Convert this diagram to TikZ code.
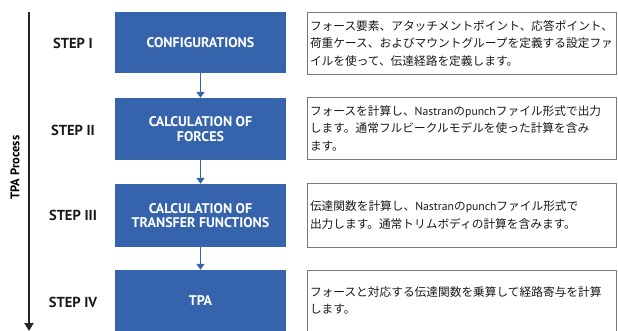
\documentclass[tikz,border=0pt]{standalone}
\usepackage{fontspec}
\setmainfont{PT Sans}
\newfontfamily\jp{Noto Sans CJK JP}
\usetikzlibrary{arrows.meta}
\definecolor{stepblue}{RGB}{53,99,172}
\definecolor{framegray}{RGB}{120,120,120}
\definecolor{jptext}{RGB}{25,25,25}
\tikzset{
  bluebox/.style={fill=stepblue, draw=none, minimum width=171pt, text=white, font=\bfseries\fontsize{14}{14.5}\selectfont, align=center, inner sep=0pt},
  descbox/.style={draw=framegray, line width=0.8pt, minimum width=309pt, text width=303pt, inner xsep=3pt, inner ysep=0pt, text=jptext, font=\jp\fontsize{11.7}{17.5}\selectfont, align=left},
  steplabel/.style={font=\bfseries\fontsize{14.5}{15}\selectfont, text=black!90},
  flowarrow/.style={draw=stepblue, line width=1.6pt, -{Triangle[width=8pt,length=6pt]}},
  mainarrow/.style={draw=black!85, line width=2.4pt, -{Triangle[width=9pt,length=8pt]}}
}
\begin{document}
\begin{tikzpicture}[x=1pt,y=-1pt]
\useasboundingbox (0,0) rectangle (618,331);
% blue step boxes
\node[bluebox, minimum height=61pt] (b1) at (200.5,42.5) {CONFIGURATIONS};
\node[bluebox, minimum height=62pt] (b2) at (200.5,129) {CALCULATION OF\\FORCES};
\node[bluebox, minimum height=63pt] (b3) at (200.5,215.5) {CALCULATION OF\\TRANSFER FUNCTIONS};
\node[bluebox, minimum height=61pt] (b4) at (200.5,300.5) {TPA};
% connectors
\draw[flowarrow] (b1.south) -- (b2.north);
\draw[flowarrow] (b2.south) -- (b3.north);
\draw[flowarrow] (b3.south) -- (b4.north);
% descriptions
\node[descbox, minimum height=62pt] (d1) at (461.5,43) {フォース要素、アタッチメントポイント、応答ポイント、\\荷重ケース、およびマウントグループを定義する設定ファ\\イルを使って、伝達経路を定義します。};
\node[descbox, minimum height=62pt] (d2) at (461.5,128) {フォースを計算し、{\rmfamily Nastran}の{\rmfamily punch}ファイル形式で出力\\します。通常フルビークルモデルを使った計算を含み\\ます。};
\node[descbox, minimum height=64pt] (d3) at (461.5,215) {伝達関数を計算し、{\rmfamily Nastran}の{\rmfamily punch}ファイル形式で\\出力します。通常トリムボディの計算を含みます。};
\node[descbox, minimum height=61pt] (d4) at (461.5,300.5) {フォースと対応する伝達関数を乗算して経路寄与を計算\\します。};
% step labels
\node[steplabel] (s1) at (73,43) {STEP I};
\node[steplabel] (s2) at (73,130) {STEP II};
\node[steplabel] (s3) at (73,215) {STEP III};
\node[steplabel] (s4) at (73,302) {STEP IV};
% process arrow
\coordinate (ptop) at (29,12);
\coordinate (pbot) at (29,331);
\draw[mainarrow] (ptop) -- (pbot);
\node[rotate=90, font=\bfseries\fontsize{12.5}{13}\selectfont] (tpa) at (15,167.5) {TPA Process};
\end{tikzpicture}
\end{document}
